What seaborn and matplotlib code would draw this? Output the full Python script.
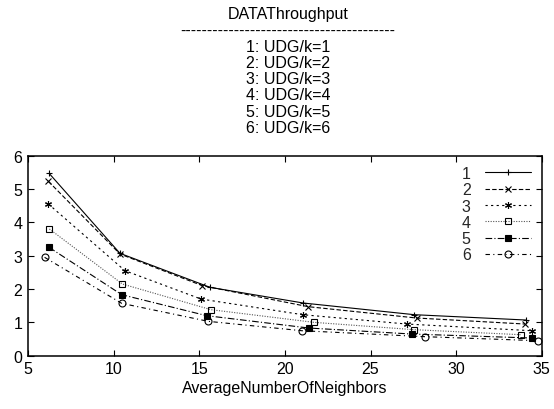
import matplotlib
matplotlib.use("Agg")
import matplotlib.pyplot as plt
import seaborn as sns
import pandas as pd

# Average number of neighbors and throughput for each UDG/k setting
x1 = [6.23, 10.37, 15.63, 21.07, 27.55, 34.07]
y1 = [5.47, 3.07, 2.05, 1.58, 1.23, 1.07]
x2 = [6.19, 10.37, 15.18, 21.36, 27.69, 34.01]
y2 = [5.23, 3.05, 2.10, 1.47, 1.13, 0.95]
x3 = [6.19, 10.66, 15.10, 21.03, 27.10, 34.40]
y3 = [4.55, 2.55, 1.70, 1.23, 0.95, 0.75]
x4 = [6.25, 10.51, 15.68, 21.70, 27.55, 33.76]
y4 = [3.80, 2.15, 1.38, 1.00, 0.78, 0.63]
x5 = [6.23, 10.47, 15.43, 21.40, 27.40, 34.40]
y5 = [3.25, 1.83, 1.20, 0.83, 0.65, 0.53]
x6 = [5.97, 10.47, 15.53, 20.97, 28.20, 34.75]
y6 = [2.95, 1.57, 1.03, 0.75, 0.57, 0.45]

series_names = ["1", "2", "3", "4", "5", "6"]
subtitles = ["1: UDG/k=1", "2: UDG/k=2", "3: UDG/k=3",
             "4: UDG/k=4", "5: UDG/k=5", "6: UDG/k=6"]
xs = [x1, x2, x3, x4, x5, x6]
ys = [y1, y2, y3, y4, y5, y6]

sns.set_theme(style="ticks")
plt.rcParams["font.family"] = ["Liberation Sans", "DejaVu Sans"]

FS = 11.5

fig = plt.figure(figsize=(5.54, 4.10), dpi=100)
ax = fig.add_axes([0.0505, 0.130, 0.9275, 0.488])

styles = [
    dict(marker="+", dashes=None, mfc="black", color="black"),
    dict(marker="x", dashes=(4, 2), mfc="black", color="black"),
    dict(marker=(6, 2, 0), dashes=(2, 3), mfc="black", color="black"),
    dict(marker="s", dashes=(1, 1.3), mfc="none", color="#555555"),
    dict(marker="s", dashes=(6, 2, 1, 2), mfc="black", color="black"),
    dict(marker="o", dashes=(4, 3, 1, 3), mfc="none", color="black"),
]

for name, xv, yv, st in zip(series_names, xs, ys, styles):
    df = pd.DataFrame({"x": xv, "y": yv})
    sns.lineplot(data=df, x="x", y="y", ax=ax, sort=False,
                 color=st["color"], linewidth=0.8, label=name,
                 marker=st["marker"], markersize=5,
                 markerfacecolor=st["mfc"], markeredgecolor="black",
                 markeredgewidth=0.8)
    ln = ax.lines[-1]
    if st["dashes"] is not None:
        ln.set_dashes(st["dashes"])

ax.set_xlim(5, 35)
ax.set_ylim(0, 6)
ax.set_xticks([5, 10, 15, 20, 25, 30, 35])
ax.set_yticks([0, 1, 2, 3, 4, 5, 6])
ax.tick_params(direction="in", length=4, width=0.8, top=True, right=True,
               labelsize=FS, colors="black", pad=4)
for sp in ax.spines.values():
    sp.set_visible(True)
    sp.set_linewidth(1.1)
    sp.set_color("black")

ax.set_xlabel("AverageNumberOfNeighbors", fontsize=FS, color="black", labelpad=3)
ax.set_ylabel("")

leg = ax.legend(loc="upper right", frameon=False, fontsize=FS,
                handlelength=2.9, markerfirst=False, handletextpad=0.9,
                labelspacing=0.08, borderaxespad=0.25)

header = "DATAThroughput\n" + "-" * 40 + "\n" + "\n".join(subtitles)
fig.text(0.52, 0.982, header, ha="center", va="top", fontsize=FS,
         linespacing=1.1, color="black")

fig.savefig("out.png", dpi=100)
